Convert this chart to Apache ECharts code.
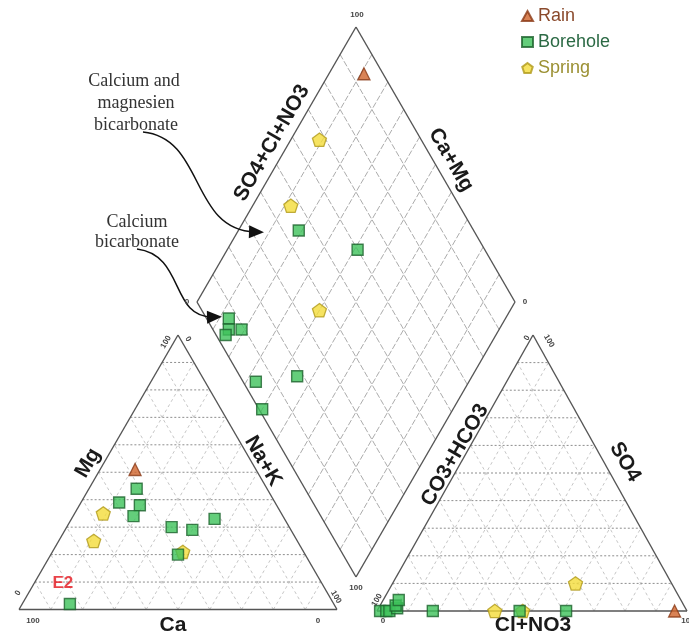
<!DOCTYPE html>
<html><head><meta charset="utf-8">
<script src="https://cdn.jsdelivr.net/npm/echarts@6/dist/echarts.min.js"></script>
<style>html,body{margin:0;padding:0;background:#fff}#c{width:689px;height:639px}</style>
</head><body><div id="c"></div>
<script>
// ---- Data (percent of meq) ----
// Cation triangle: [Ca, Mg, Na+K]
const rainCation = [[38, 51, 11]];
const boreholeCation = [[41,44,15],[49,39,12],[43,38,19],[47,34,19],[37,30,33],[31,29,40],[22,33,45],[40,20,40],[83,2,15]];
const springCation = [[56,35,9],[64,25,11],[38,21,41]];
// Anion triangle: [CO3+HCO3, SO4, Cl+NO3]
const rainAnion = [[4, 0, 96]];
const boreholeAnion = [[99,0,1],[97,0,3],[96,0,4],[93,1,6],[93,2,5],[91,4,5],[82,0,18],[54,0,46],[39,0,61]];
const springAnion = [[62,0,38],[53,0,47],[31,10,59]];
// Diamond: [SO4+Cl+NO3, Ca+Mg]
const rainDiamond = [[94, 89]];
const boreholeDiamond = [[45,81],[60,59],[7,87],[5,85],[3,85],[9,81],[4,67],[18,55],[1,60]];
const springDiamond = [[68,91],[47,88],[37,60]];
const seriesNames = ['Rain', 'Borehole', 'Spring'];
const sampleLabelE2 = 'E2';
const gridSteps = [10,20,30,40,50,60,70,80,90];

// ---- Layout (chart units = pixels of the 689x639 canvas) ----
const CAT = {A:[19,609.5], B:[337,609.5], C:[178,335]};   // A=Ca, B=Na+K, C=Mg
const AN  = {A:[377,611],  B:[687,611],  C:[533,335]};    // A=CO3+HCO3, B=Cl+NO3, C=SO4
const DIA = {B:[356,577], L:[197,302], R:[515,302], T:[356,27]};

function tern(tri, a, b, c){
  return [(a*tri.A[0]+b*tri.B[0]+c*tri.C[0])/100, (a*tri.A[1]+b*tri.B[1]+c*tri.C[1])/100];
}
function catXY(v){ return tern(CAT, v[0], v[2], v[1]); }
function anXY(v){ return tern(AN, v[0], v[2], v[1]); }
function diaXY(v){
  const s=v[0]/100, c=v[1]/100;
  return [DIA.B[0]+s*(DIA.R[0]-DIA.B[0])+c*(DIA.L[0]-DIA.B[0]), DIA.B[1]+s*(DIA.R[1]-DIA.B[1])+c*(DIA.L[1]-DIA.B[1])];
}
function lerp(p,q,t){ return [p[0]+(q[0]-p[0])*t, p[1]+(q[1]-p[1])*t]; }

// ---- Frame and grid segments ----
const segs = [];
function seg(p,q,k){ segs.push([p[0],p[1],q[0],q[1],k]); }
[CAT, AN].forEach(tri=>{
  gridSteps.forEach(g=>{
    const t=g/100;
    seg(lerp(tri.A,tri.C,t), lerp(tri.B,tri.C,t), 1);          // horizontal
    seg(lerp(tri.A,tri.B,t), lerp(tri.A,tri.C,t), 2);          // parallel to BC
    seg(lerp(tri.B,tri.A,t), lerp(tri.B,tri.C,t), 2);          // parallel to AC
  });
  seg(tri.A,tri.B,0); seg(tri.B,tri.C,0); seg(tri.C,tri.A,0);
});
gridSteps.forEach(g=>{
  const t=g/100;
  seg(lerp(DIA.B,DIA.R,t), lerp(DIA.L,DIA.T,t), 3);
  seg(lerp(DIA.B,DIA.L,t), lerp(DIA.R,DIA.T,t), 3);
});
seg(DIA.B,DIA.R,0); seg(DIA.R,DIA.T,0); seg(DIA.T,DIA.L,0); seg(DIA.L,DIA.B,0);

const segStyles = [
  {stroke:'#555', lineWidth:1.4},
  {stroke:'#8e8e8e', lineWidth:1, lineDash:[2,2]},
  {stroke:'#b8b8b8', lineWidth:0.8, lineDash:[3,3]},
  {stroke:'#a2a2a2', lineWidth:0.9, lineDash:[6,2]}
];

function pts(cat, an, dia){
  return cat.map(catXY).concat(an.map(anXY)).concat(dia.map(diaXY));
}
const FONT = 'Liberation Sans, Arial, sans-serif';
const boreholePts = pts(boreholeCation, boreholeAnion, boreholeDiamond).map((p,i)=>{
  if(i===8) return {value:p, label:{show:true, formatter:sampleLabelE2, color:'#e3141c', fontSize:17, fontWeight:'bold',
    fontFamily:FONT, position:'top', offset:[-7,-1]}};
  return p;
});

const pentagon = 'path://M0,-10 L9.51,-3.09 L5.88,8.09 L-5.88,8.09 L-9.51,-3.09 Z';

// ---- Text graphics ----
const g = [];
function txt(s, x, y, rotDeg, font, color){
  g.push({type:'text', x:x, y:y, rotation:rotDeg*Math.PI/180, z:50,
    style:{text:s, x:0, y:0, textAlign:'center', textVerticalAlign:'middle', font:font, fill:color}});
}
const TF = 'bold 21px ' + FONT, TC = '#1a1a1a';
txt('SO4+Cl+NO3', 272, 143, 60, TF, TC);
txt('Ca+Mg', 451, 160, -60, TF, TC);
txt('Mg', 88, 463, 60, TF, TC);
txt('Na+K', 263, 461, -60, TF, TC);
txt('Ca', 173, 625, 0, TF, TC);
txt('CO3+HCO3', 455, 455, 60, TF, TC);
txt('SO4', 625, 462, -60, TF, TC);
txt('Cl+NO3', 533, 625, 0, TF, TC);
// tick end labels
const tk = 'bold 8px ' + FONT, tc = '#444';
txt('100', 33, 621, 0, tk, tc); txt('0', 318, 621, 0, tk, tc);
txt('0', 18, 593, 60, tk, tc); txt('100', 166, 342, 60, tk, tc);
txt('0', 188, 339, -60, tk, tc); txt('100', 336, 597, -60, tk, tc);
txt('100', 357, 15, 0, tk, tc); txt('0', 525, 302, 0, tk, tc);
txt('0', 187, 302, 0, tk, tc); txt('100', 356, 588, 0, tk, tc);
txt('100', 377, 600, 60, tk, tc); txt('0', 383, 621, 0, tk, tc);
txt('0', 527, 338, 60, tk, tc); txt('100', 549, 341, -60, tk, tc);
txt('100', 688, 621, 0, tk, tc);
// annotations
const serif = '18px "Liberation Serif", "DejaVu Serif", serif';
txt('Calcium and', 134, 81, 0, serif, '#333');
txt('magnesien', 136, 103, 0, serif, '#333');
txt('bicarbonate', 136, 125, 0, serif, '#333');
txt('Calcium', 137, 222, 0, serif, '#333');
txt('bicarbonate', 137, 242, 0, serif, '#333');

function arrow(p0, c1, c2, p1){
  g.push({type:'bezierCurve', z:40, shape:{x1:p0[0],y1:p0[1],cpx1:c1[0],cpy1:c1[1],cpx2:c2[0],cpy2:c2[1],x2:p1[0],y2:p1[1]},
    style:{stroke:'#111', lineWidth:1.5, fill:null}});
  const dx=p1[0]-c2[0], dy=p1[1]-c2[1], L=Math.hypot(dx,dy), ux=dx/L, uy=dy/L;
  const tip=[p1[0]+ux*9, p1[1]+uy*9], back=[p1[0]-ux*6, p1[1]-uy*6];
  g.push({type:'polygon', z:41, shape:{points:[tip,[back[0]-uy*6.5,back[1]+ux*6.5],[back[0]+uy*6.5,back[1]-ux*6.5]]}, style:{fill:'#111'}});
}
arrow([143,132],[205,138],[190,230],[255,232]);
arrow([137,249],[185,255],[170,318],[213,317]);

const chart = echarts.init(document.getElementById('c'));
chart.setOption({
  animation:false,
  backgroundColor:'#fff',
  grid:{left:0,right:0,top:0,bottom:0},
  xAxis:{type:'value', min:0, max:689, show:false},
  yAxis:{type:'value', min:0, max:639, inverse:true, show:false},
  legend:{orient:'vertical', left:516, top:2, itemGap:8, itemWidth:11, itemHeight:10,
    textStyle:{fontSize:18, fontFamily:FONT},
    data:[{name:'Rain', textStyle:{color:'#8a4a2c'}},{name:'Borehole', textStyle:{color:'#2c6a45'}},{name:'Spring', textStyle:{color:'#9b9033'}}]},
  graphic: g,
  series:[
    {type:'custom', coordinateSystem:'cartesian2d', silent:true, z:1, data:segs,
     encode:{x:[0,2], y:[1,3]},
     renderItem:function(params, api){
       const p1=api.coord([api.value(0),api.value(1)]), p2=api.coord([api.value(2),api.value(3)]);
       return {type:'line', shape:{x1:p1[0],y1:p1[1],x2:p2[0],y2:p2[1]}, style:segStyles[api.value(4)]};
     }},
    {name:seriesNames[2], type:'scatter', z:3, symbol:pentagon, symbolKeepAspect:true, symbolSize:14,
     itemStyle:{color:'#f4dc3a', borderColor:'#b09a1a', borderWidth:1.3},
     data: pts(springCation, springAnion, springDiamond)},
    {name:seriesNames[1], type:'scatter', z:4, symbol:'rect', symbolSize:11,
     itemStyle:{color:'#3dc25a', borderColor:'#1d632d', borderWidth:1.4},
     data: boreholePts},
    {name:seriesNames[0], type:'scatter', z:5, symbol:'triangle', symbolSize:12,
     itemStyle:{color:'#d0642c', borderColor:'#8a3a16', borderWidth:1.3},
     data: pts(rainCation, rainAnion, rainDiamond)}
  ]
});
</script></body></html>
